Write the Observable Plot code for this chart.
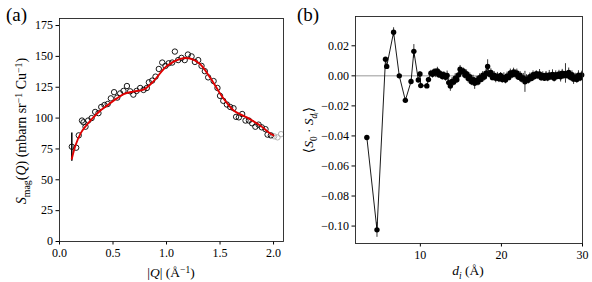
<!DOCTYPE html>
<html><head><meta charset="utf-8">
<script src="https://cdn.jsdelivr.net/npm/d3@7"></script>
<script src="https://cdn.jsdelivr.net/npm/@observablehq/plot@0.6"></script>
<style>
body{margin:0;background:#fff;}
#wrap{position:relative;width:592px;height:282px;overflow:hidden;font-family:"Liberation Serif","DejaVu Serif",serif;}
#wrap svg{position:absolute;top:0;overflow:visible;}
.plab{position:absolute;font-size:19px;font-family:"Liberation Serif","DejaVu Serif",serif;line-height:1;}
</style></head><body><div id="wrap"></div>
<script>
// ---------- Panel (a) data ----------
const qVals = [0.115,0.156,0.18,0.21,0.224,0.243,0.268,0.30,0.333,0.364,0.39,0.42,0.45,0.48,0.51,0.54,0.567,0.598,0.63,0.66,0.69,0.72,0.754,0.785,0.816,0.835,0.866,0.897,0.928,0.96,0.99,1.02,1.053,1.078,1.109,1.14,1.17,1.20,1.234,1.265,1.296,1.327,1.358,1.389,1.44,1.476,1.50,1.53,1.564,1.595,1.626,1.65,1.676,1.707,1.738,1.77,1.80,1.83,1.86,1.89,1.925,1.944,1.975];
const sVals = [76.8,76,86,98,96.6,93,98,100,105,104,109,110.6,111.4,116,121,116.6,120,122,126,121.7,119,122,124.4,122.8,124.4,129,130.4,133.6,139.8,145,142.3,144.4,145,153.9,147,148.8,147,151.5,150,145.5,147,142.3,138,133,130,124.4,118,114,111,109,108,101,100.6,103.3,98,98,95.8,93,94.7,92.5,91,86.6,86];
const qGray = [2.006,2.037,2.07];
const sGray = [85.2,84.4,87];
const errQ = [0.115];
const errLo = [65];
const errHi = [88];
const fitQ = [0.115,0.15,0.2,0.25,0.3,0.38,0.45,0.536,0.6,0.69,0.785,0.88,1.0,1.13,1.22,1.31,1.41,1.5,1.56,1.63,1.75,1.875,1.97,2.0];
const fitS = [67,78,88,94,99,106,110.5,116,119.5,121.5,123,130,142,148,148.3,144,132.5,120,112.8,106,100.6,94,87.5,86];
const aXTicks = [0,0.5,1.0,1.5,2.0];
const aYTicks = [0,25,50,75,100,125,150,175];

// ---------- Panel (b) data ----------
const dDist = [3.4,4.65,5.7,5.85,6.7,7.4,8.15,8.85,9.2,9.75,9.95,10.05,10.8,11.0,11.3,
 11.5,11.7,11.9,12.1,12.3,12.5,12.7,12.9,13.1,13.3,13.5,13.7,13.9,14.1,14.3,14.5,14.7,14.9,15.1,15.3,15.5,15.7,15.9,16.1,16.3,16.5,16.7,16.9,17.1,17.3,17.5,17.7,17.9,18.1,18.3,18.5,18.7,18.9,19.1,19.3,19.5,19.7,19.9,20.1,20.3,20.5,20.7,20.9,21.1,21.3,21.5,21.7,21.9,22.1,22.3,22.5,22.7,22.9,23.1,23.3,23.5,23.7,23.9,24.1,24.3,24.5,24.7,24.9,25.1,25.3,25.5,25.7,25.9,26.1,26.3,26.5,26.7,26.9,27.1,27.3,27.5,27.7,27.9,28.1,28.3,28.5,28.7,28.9,29.1,29.3,29.5,29.7,29.9];
const corr = [-0.041,-0.1025,0.011,0.0063,0.029,0.0,-0.0163,-0.0038,0.0163,-0.0028,0.0012,-0.0065,-0.0067,-0.0025,0.0017,
 0.0010,0.0028,0.0018,0.0032,0.0006,0.0014,-0.0004,0.0008,-0.0010,0.0002,-0.0045,-0.0068,-0.0038,-0.0042,-0.0016,-0.0026,0.0006,0.0044,0.0026,0.0032,0.0004,0.0014,-0.0018,-0.0006,-0.0040,-0.0026,-0.0050,-0.0030,-0.0042,-0.0012,-0.0024,0.0004,-0.0008,0.0018,0.0062,0.0010,0.0022,-0.0012,0.0004,-0.0016,-0.0002,-0.0020,0.0002,-0.0024,-0.0010,-0.0028,0.0000,-0.0012,0.0020,0.0006,0.0026,0.0010,0.0020,-0.0010,0.0004,-0.0022,-0.0014,-0.0040,-0.0022,-0.0030,-0.0006,-0.0018,0.0008,-0.0004,0.0014,0.0000,0.0012,-0.0012,0.0002,-0.0016,0.0004,-0.0014,0.0006,-0.0006,0.0010,-0.0016,0.0008,-0.0004,0.0012,-0.0006,0.0018,0.0002,0.0016,0.0002,0.0022,-0.0010,0.0008,-0.0022,-0.0008,-0.0024,0.0004,-0.0014,0.0006];
const corrErr = [0.0005,0.005,0.001,0.001,0.003,0.001,0.0015,0.0015,0.0045,0.001,0.0015,0.0015,0.0015,0.0015,0.002,
 0.0025,0.002,0.003,0.0025,0.002,0.002,0.0025,0.002,0.0025,0.003,0.003,0.0035,0.0025,0.0025,0.003,0.0025,0.0025,0.0025,0.002,0.002,0.0025,0.0025,0.003,0.0025,0.0025,0.003,0.004,0.0025,0.0025,0.0025,0.002,0.0025,0.0025,0.0025,0.0045,0.0025,0.0025,0.002,0.0025,0.003,0.0025,0.0025,0.002,0.0025,0.003,0.0025,0.0025,0.002,0.0025,0.0025,0.0025,0.003,0.0025,0.002,0.0025,0.0025,0.003,0.007,0.003,0.0025,0.0025,0.002,0.0025,0.0025,0.002,0.0025,0.003,0.0025,0.0025,0.002,0.0025,0.0025,0.003,0.0025,0.003,0.0025,0.0025,0.002,0.0025,0.0035,0.0025,0.0025,0.0065,0.0025,0.003,0.0025,0.0025,0.0035,0.0025,0.0025,0.003,0.0025,0.0025];
const bXTicks = [10,20,30];
const bYTicks = [-0.10,-0.08,-0.06,-0.04,-0.02,0.00,0.02];

// ---------- build ----------
const FONT = "'Liberation Serif','DejaVu Serif',serif";
const wrap = document.getElementById("wrap");
const aPts = qVals.map((q,i)=>({q, s:sVals[i]}));
const aGray = qGray.map((q,i)=>({q, s:sGray[i]}));
const aErr = errQ.map((q,i)=>({q, lo:errLo[i], hi:errHi[i]}));
const aFit = fitQ.map((q,i)=>({q, s:fitS[i]}));

const pa = Plot.plot({
  width:300, height:282, marginLeft:59, marginRight:17, marginTop:18, marginBottom:41,
  style:{fontFamily:FONT, fontSize:"12px", color:"#000", background:"transparent"},
  x:{domain:[0,2.093]}, y:{domain:[0,180.7]},
  marks:[
    Plot.axisX({ticks:aXTicks, tickFormat:d3.format(".1f"), tickSize:3.5, tickPadding:3, label:null}),
    Plot.axisY({ticks:aYTicks, tickFormat:d=>String(d), tickSize:3.5, tickPadding:3, label:null}),
    Plot.ruleX(aErr, {x:"q", y1:"lo", y2:"hi", stroke:"#000", strokeWidth:1.5}),
    Plot.dot(aGray, {x:"q", y:"s", r:2.7, stroke:"#aaa", strokeWidth:0.9, fill:"none"}),
    Plot.dot(aPts, {x:"q", y:"s", r:2.7, stroke:"#000", strokeWidth:0.9, fill:"none"}),
    Plot.line(aFit, {x:"q", y:"s", curve:"catmull-rom", stroke:"#e00000", strokeWidth:1.9}),
    Plot.frame({stroke:"#222", strokeWidth:0.9})
  ]
});
pa.style.left = "0px";
wrap.appendChild(pa);

const bPts = dDist.map((d,i)=>({d, v:corr[i], e:corrErr[i]}));
const pb = Plot.plot({
  width:292, height:282, marginLeft:55, marginRight:10, marginTop:16, marginBottom:39,
  style:{fontFamily:FONT, fontSize:"12px", color:"#000", background:"transparent"},
  x:{domain:[2,30]}, y:{domain:[-0.1116,0.0395]},
  marks:[
    Plot.axisX({ticks:bXTicks, tickFormat:d=>String(d), tickSize:3.5, tickPadding:3, label:null}),
    Plot.axisY({ticks:bYTicks, tickFormat:d3.format(".2f"), tickSize:3.5, tickPadding:3, label:null}),
    Plot.ruleY([0], {stroke:"#999", strokeWidth:1}),
    Plot.line(bPts, {x:"d", y:"v", stroke:"#000", strokeWidth:0.9}),
    Plot.ruleX(bPts, {x:"d", y1:p=>p.v-p.e, y2:p=>p.v+p.e, stroke:"#000", strokeWidth:0.8}),
    Plot.dot(bPts, {x:"d", y:"v", r:2.7, fill:"#000", stroke:"none"}),
    Plot.frame({stroke:"#222", strokeWidth:0.9})
  ]
});
pb.style.left = "300px";
wrap.appendChild(pb);

// rich text labels
function rich(svg, x, y, rot, parts, size){
  const t = d3.select(svg).append("text")
    .attr("transform", `translate(${x},${y}) rotate(${rot})`)
    .attr("text-anchor","middle").attr("font-family",FONT).attr("font-size",size).attr("fill","#000");
  let cur = 0;
  parts.forEach(p=>{
    const s = t.append("tspan").text(p.t);
    const target = p.sub ? 3.5 : p.sup ? -4.5 : 0;
    if (target !== cur) { s.attr("dy", target-cur); cur = target; }
    if (p.i) s.attr("font-style","italic");
    if (p.sub || p.sup) s.attr("font-size", size*0.7);
  });
}
rich(pa, 171, 277, 0, [{t:"|"},{t:"Q",i:1},{t:"| (Å"},{t:"−1",sup:1},{t:")"}], 13.5);
rich(pa, 26, 131, -90, [{t:"S",i:1},{t:"mag",sub:1},{t:"(",},{t:"Q",i:1},{t:") (mbarn sr"},{t:"−1",sup:1},{t:" Cu"},{t:"−1",sup:1},{t:")"}], 14);
rich(pb, 168, 275, 0, [{t:"d",i:1},{t:"i",i:1,sub:1},{t:" (Å)"}], 13.5);
rich(pb, 13, 130, -90, [{t:"⟨"},{t:"S",i:1},{t:"0",sub:1},{t:" · "},{t:"S",i:1},{t:"dᵢ",i:1,sub:1},{t:"⟩"}], 13.5);

// panel letters
for (const [txt,l] of [["(a)",6],["(b)",297]]) {
  const dv = document.createElement("div");
  dv.className = "plab"; dv.textContent = txt;
  dv.style.left = l+"px"; dv.style.top = "5px";
  wrap.appendChild(dv);
}
</script></body></html>
